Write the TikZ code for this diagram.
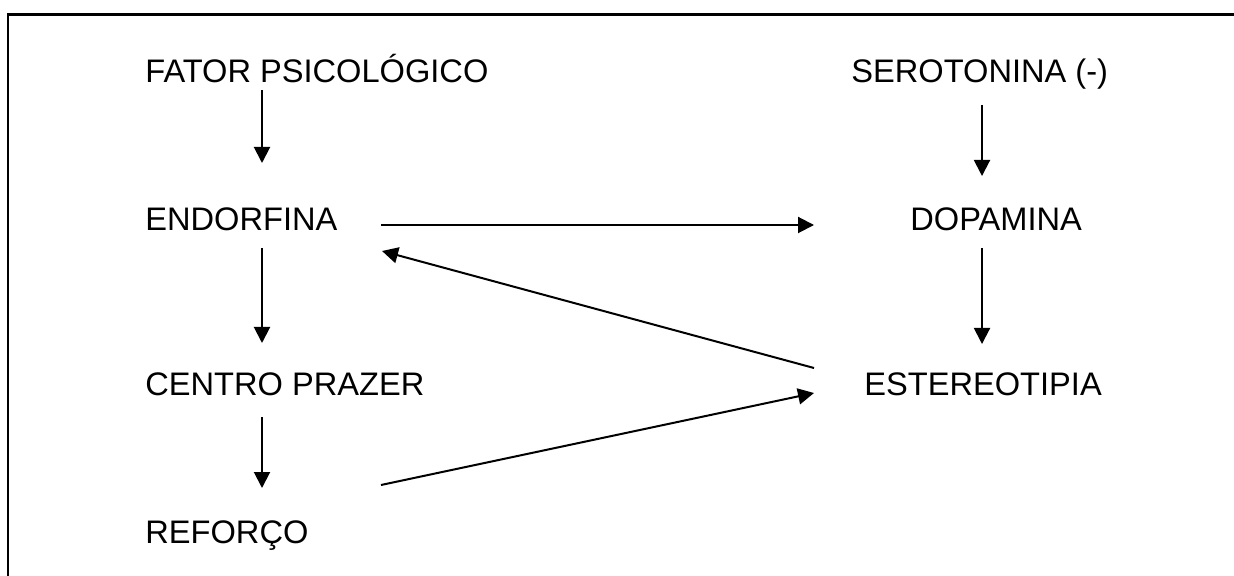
\documentclass[tikz,border=0pt]{standalone}
\usepackage{fontspec}
\setmainfont{Liberation Sans}
\usetikzlibrary{arrows.meta}
\begin{document}
\begin{tikzpicture}[x=0.5pt,y=-0.5pt,
  lbl/.style={anchor=base west,inner sep=0pt,font=\fontsize{16.3pt}{19.5pt}\selectfont},
  arr/.style={line width=1pt,-{Triangle[length=8pt,width=8pt]}},
  frame/.style={line width=1.1pt}]
\useasboundingbox (0,0) rectangle (1234,576);
\fill[white] (0,0) rectangle (1234,576);
\draw[frame] (8,580) -- (8,14.5) -- (1240,14.5);
% nodes
\node[lbl] (fator) at (145,83) {FATOR PSICOLÓGICO};
\node[lbl] (endo) at (145,231) {ENDORFINA};
\node[lbl] (centro) at (145,395) {CENTRO PRAZER};
\node[lbl] (ref) at (145,543) {REFORÇO};
\node[lbl] (sero) at (851,83) {SEROTONINA (-)};
\node[lbl] (dopa) at (910,231) {DOPAMINA};
\node[lbl] (este) at (864,395) {ESTEREOTIPIA};
% connector end points
\coordinate (fatorS) at (262,90);
\coordinate (endoN) at (262,163);
\coordinate (endoS) at (262,248);
\coordinate (centroN) at (262,343);
\coordinate (centroS) at (262,417);
\coordinate (refN) at (262,488);
\coordinate (seroS) at (982,105);
\coordinate (dopaN) at (982,176);
\coordinate (dopaS) at (982,248);
\coordinate (esteN) at (982,344);
\coordinate (endoE) at (381,225);
\coordinate (dopaW) at (814,225);
\coordinate (esteW1) at (814,368);
\coordinate (endoE2) at (382,251);
\coordinate (refE) at (381,485);
\coordinate (esteW2) at (814,393);
% connectors
\draw[arr] (fatorS) -- (endoN);
\draw[arr] (endoS) -- (centroN);
\draw[arr] (centroS) -- (refN);
\draw[arr] (seroS) -- (dopaN);
\draw[arr] (dopaS) -- (esteN);
\draw[arr] (endoE) -- (dopaW);
\draw[arr] (esteW1) -- (endoE2);
\draw[arr] (refE) -- (esteW2);
\end{tikzpicture}
\end{document}
